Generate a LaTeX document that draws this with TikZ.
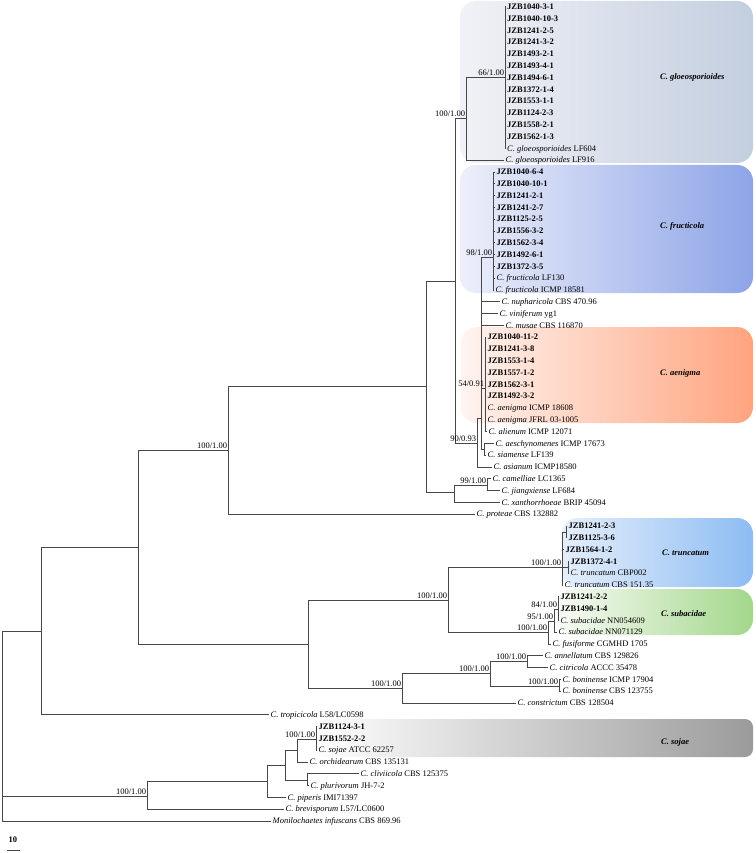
\documentclass[tikz,border=0pt]{standalone}
\usepackage{fontspec}
\setmainfont{Liberation Serif}
\definecolor{gloL}{HTML}{F1F2F7}
\definecolor{gloR}{HTML}{C3CEDF}
\definecolor{frL}{HTML}{EDEFFA}
\definecolor{frR}{HTML}{8DA4E7}
\definecolor{aeL}{HTML}{FFF4F0}
\definecolor{aeR}{HTML}{FFA47F}
\definecolor{trL}{HTML}{E5EFFB}
\definecolor{trR}{HTML}{8DBCF3}
\definecolor{suL}{HTML}{F8FBF6}
\definecolor{suR}{HTML}{A3D78B}
\definecolor{soL}{HTML}{FFFFFF}
\definecolor{soR}{HTML}{9B9B9B}
\newcommand{\rowy}[1]{6.8+11.8*(#1-1)}

\begin{document}
\begin{tikzpicture}[x=1pt, y=-1pt,
  br/.style={draw=black!72, line width=0.8pt, line cap=rect},
  leaf/.style={anchor=west, inner sep=1.5pt, text height=5.8pt, text depth=0.3pt,
    font=\fontsize{8.5}{10}\selectfont},
  jzb/.style={leaf, font=\fontsize{8.5}{10}\selectfont\bfseries},
  sup/.style={anchor=south east, inner sep=0.8pt, font=\fontsize{8.5}{10}\selectfont},
  clade/.style={anchor=west, inner sep=0pt, font=\fontsize{8.5}{10}\selectfont\bfseries\itshape},
  cladebox/.style={rounded corners=16pt}]
  \useasboundingbox (0,0) rectangle (755,853);

  % clade boxes
  \shade[cladebox, left color=gloL, right color=gloR] (460,1) rectangle (753,163);
  \shade[cladebox, left color=frL, right color=frR] (460,165) rectangle (753,293);
  \shade[cladebox, left color=aeL, right color=aeR] (461,327) rectangle (753,423);
  \shade[cladebox, left color=trL, right color=trR] (562,518) rectangle (753,587);
  \shade[cladebox, left color=suL, right color=suR] (557,589) rectangle (753,635);
  \shade[rounded corners=8pt, left color=soL, right color=soR] (314,719) rectangle (753,757);

  \node[clade] (cGlo) at (660,77)  {C. gloeosporioides};
  \node[clade] (cFru) at (660,226) {C. fructicola};
  \node[clade] (cAen) at (660,373) {C. aenigma};
  \node[clade] (cTru) at (662,553) {C. truncatum};
  \node[clade] (cSub) at (661,614) {C. subacidae};
  \node[clade] (cSoj) at (661,742) {C. sojae};

  % leaves
  \foreach \t [count=\i] in {JZB1040-3-1,JZB1040-10-3,JZB1241-2-5,JZB1241-3-2,JZB1493-2-1,JZB1493-4-1,
      JZB1494-6-1,JZB1372-1-4,JZB1553-1-1,JZB1124-2-3,JZB1558-2-1,JZB1562-1-3}
    \node[jzb] (l\i) at (505.5,{\rowy{\i}}) {\t};
  \node[leaf] (l13) at (505.5,{\rowy{13}}) {\textit{C. gloeosporioides} LF604};
  \node[leaf] (l14) at (504,{\rowy{14}})   {\textit{C. gloeosporioides} LF916};
  \foreach \t [count=\i from 15] in {JZB1040-6-4,JZB1040-10-1,JZB1241-2-1,JZB1241-2-7,JZB1125-2-5,
      JZB1556-3-2,JZB1562-3-4,JZB1492-6-1,JZB1372-3-5}
    \node[jzb] (l\i) at (495,{\rowy{\i}}) {\t};
  \node[leaf] (l24) at (495,{\rowy{24}}) {\textit{C. fructicola} LF130};
  \node[leaf] (l25) at (494,{\rowy{25}}) {\textit{C. fructicola} ICMP 18581};
  \node[leaf] (l26) at (500,{\rowy{26}}) {\textit{C. nupharicola} CBS 470.96};
  \node[leaf] (l27) at (498,{\rowy{27}}) {\textit{C. viniferum} yg1};
  \node[leaf] (l28) at (504,{\rowy{28}}) {\textit{C. musae} CBS 116870};
  \foreach \t [count=\i from 29] in {JZB1040-11-2,JZB1241-3-8,JZB1553-1-4,JZB1557-1-2,JZB1562-3-1,JZB1492-3-2}
    \node[jzb] (l\i) at (486,{\rowy{\i}}) {\t};
  \node[leaf] (l35) at (486,{\rowy{35}}) {\textit{C. aenigma} ICMP 18608};
  \node[leaf] (l36) at (486,{\rowy{36}}) {\textit{C. aenigma} JFRL 03-1005};
  \node[leaf] (l37) at (487,{\rowy{37}}) {\textit{C. alienum} ICMP 12071};
  \node[leaf] (l38) at (494,{\rowy{38}}) {\textit{C. aeschynomenes} ICMP 17673};
  \node[leaf] (l39) at (486,{\rowy{39}}) {\textit{C. siamense} LF139};
  \node[leaf] (l40) at (492,{\rowy{40}}) {\textit{C. asianum} ICMP18580};
  \node[leaf] (l41) at (491,{\rowy{41}}) {\textit{C. camelliae} LC1365};
  \node[leaf] (l42) at (500,{\rowy{42}}) {\textit{C. jiangxiense} LF684};
  \node[leaf] (l43) at (500,{\rowy{43}}) {\textit{C. xanthorrhoeae} BRIP 45094};
  \node[leaf] (l44) at (475,{\rowy{44}}) {\textit{C. proteae} CBS 132882};
  \node[jzb]  (l45) at (567,{\rowy{45}}) {JZB1241-2-3};
  \node[jzb]  (l46) at (567,{\rowy{46}}) {JZB1125-3-6};
  \node[jzb]  (l47) at (564,{\rowy{47}}) {JZB1564-1-2};
  \node[jzb]  (l48) at (569,{\rowy{48}}) {JZB1372-4-1};
  \node[leaf] (l49) at (569,{\rowy{49}}) {\textit{C. truncatum} CBP002};
  \node[leaf] (l50) at (563,{\rowy{50}}) {\textit{C. truncatum} CBS 151.35};
  \node[jzb]  (l51) at (559,{\rowy{51}}) {JZB1241-2-2};
  \node[jzb]  (l52) at (559,{\rowy{52}}) {JZB1490-1-4};
  \node[leaf] (l53) at (559,{\rowy{53}}) {\textit{C. subacidae} NN054609};
  \node[leaf] (l54) at (557,{\rowy{54}}) {\textit{C. subacidae} NN071129};
  \node[leaf] (l55) at (551,{\rowy{55}}) {\textit{C. fusiforme} CGMHD 1705};
  \node[leaf] (l56) at (543,{\rowy{56}}) {\textit{C. annellatum} CBS 129826};
  \node[leaf] (l57) at (548,{\rowy{57}}) {\textit{C. citricola} ACCC 35478};
  \node[leaf] (l58) at (561,{\rowy{58}}) {\textit{C. boninense} ICMP 17904};
  \node[leaf] (l59) at (561,{\rowy{59}}) {\textit{C. boninense} CBS 123755};
  \node[leaf] (l60) at (516,{\rowy{60}}) {\textit{C. constrictum} CBS 128504};
  \node[leaf] (l61) at (269,{\rowy{61}}) {\textit{C. tropicicola} L58/LC0598};
  \node[jzb]  (l62) at (317,{\rowy{62}}) {JZB1124-3-1};
  \node[jzb]  (l63) at (317,{\rowy{63}}) {JZB1552-2-2};
  \node[leaf] (l64) at (317,{\rowy{64}}) {\textit{C. sojae} ATCC 62257};
  \node[leaf] (l65) at (308,{\rowy{65}}) {\textit{C. orchidearum} CBS 135131};
  \node[leaf] (l66) at (359,{\rowy{66}}) {\textit{C. cliviicola} CBS 125375};
  \node[leaf] (l67) at (309,{\rowy{67}}) {\textit{C. plurivorum} JH-7-2};
  \node[leaf] (l68) at (286,{\rowy{68}}) {\textit{C. piperis} IMI71397};
  \node[leaf] (l69) at (284,{\rowy{69}}) {\textit{C. brevisporum} L57/LC0600};
  \node[leaf] (l70) at (271,{\rowy{70}}) {\textit{Monilochaetes infuscans} CBS 869.96};

  % inner nodes
  \coordinate (n66)   at (505,77);
  \coordinate (n100a) at (466,118);
  \coordinate (n98)   at (493,257);
  \coordinate (n54)   at (485,388);
  \coordinate (nAS)   at (484,449);
  \coordinate (nQ)    at (481,418);
  \coordinate (n90)   at (477,443);
  \coordinate (n455)  at (455,281);
  \coordinate (n99)   at (487,485);
  \coordinate (n454)  at (454,492);
  \coordinate (n426)  at (426,386);
  \coordinate (n228)  at (228,450);
  \coordinate (nT1)   at (566,532);
  \coordinate (nT2)   at (568,567);
  \coordinate (nT)    at (562,567);
  \coordinate (n84)   at (558,609);
  \coordinate (n95)   at (554,621);
  \coordinate (n548)  at (548,632);
  \coordinate (n448)  at (448,600);
  \coordinate (n527)  at (527,661);
  \coordinate (n559)  at (559,686);
  \coordinate (n490)  at (490,673);
  \coordinate (n402)  at (402,688);
  \coordinate (n308)  at (308,644);
  \coordinate (n138)  at (138,547);
  \coordinate (n41)   at (41,631);
  \coordinate (n316)  at (316,739);
  \coordinate (n297)  at (297,750);
  \coordinate (n307)  at (307,780);
  \coordinate (n285)  at (285,765);
  \coordinate (n267)  at (267,781);
  \coordinate (n147)  at (147,796);
  \coordinate (nRoot) at (2,726);

  % branches
  \foreach \c in {1,...,13} \draw[br] (n66) |- (l\c.west);
  \draw[br] (n100a) |- (n66) (n100a) |- (l14.west);
  \foreach \c in {15,...,25} \draw[br] (n98) |- (l\c.west);
  \foreach \c in {29,...,37} \draw[br] (n54) |- (l\c.west);
  \draw[br] (nAS) |- (l38.west) (nAS) |- (l39.west);
  \foreach \c in {26,27,28} \draw[br] (nQ) |- (l\c.west);
  \draw[br] (nQ) |- (n98) (nQ) |- (n54) (nQ) |- (nAS);
  \draw[br] (n90) |- (nQ) (n90) |- (l40.west);
  \draw[br] (n455) |- (n100a) (n455) |- (n90);
  \draw[br] (n99) |- (l41.west) (n99) |- (l42.west);
  \draw[br] (n454) |- (n99) (n454) |- (l43.west);
  \draw[br] (n426) |- (n455) (n426) |- (n454);
  \draw[br] (n228) |- (n426) (n228) |- (l44.west);
  \draw[br] (nT1) |- (l45.west) (nT1) |- (l46.west);
  \draw[br] (nT2) |- (l48.west) (nT2) |- (l49.west);
  \draw[br] (nT) |- (nT1) (nT) |- (l47.west) (nT) -- (nT2) (nT) |- (l50.west);
  \foreach \c in {51,52,53} \draw[br] (n84) |- (l\c.west);
  \draw[br] (n95) |- (n84) (n95) |- (l54.west);
  \draw[br] (n548) |- (n95) (n548) |- (l55.west);
  \draw[br] (n448) |- (nT) (n448) |- (n548);
  \draw[br] (n527) |- (l56.west) (n527) |- (l57.west);
  \draw[br] (n559) |- (l58.west) (n559) |- (l59.west);
  \draw[br] (n490) |- (n527) (n490) |- (n559);
  \draw[br] (n402) |- (n490) (n402) |- (l60.west);
  \draw[br] (n308) |- (n448) (n308) |- (n402);
  \draw[br] (n138) |- (n228) (n138) |- (n308);
  \draw[br] (n41) |- (n138) (n41) |- (l61.west);
  \foreach \c in {62,63,64} \draw[br] (n316) |- (l\c.west);
  \draw[br] (n297) |- (n316) (n297) |- (l65.west);
  \draw[br] (n307) |- (l66.west) (n307) |- (l67.west);
  \draw[br] (n285) |- (n297) (n285) |- (n307);
  \draw[br] (n267) |- (n285) (n267) |- (l68.west);
  \draw[br] (n147) |- (n267) (n147) |- (l69.west);
  \draw[br] (nRoot) |- (n41) (nRoot) |- (n147) (nRoot) |- (l70.west);

  % support values (ML/BI)
  \node[sup] (s66)   at (n66)   {66/1.00};
  \node[sup] (s100a) at (n100a) {100/1.00};
  \node[sup] (s98)   at (n98)   {98/1.00};
  \node[sup] (s54)   at (n54)   {54/0.91};
  \node[sup] (s90)   at (n90)   {90/0.93};
  \node[sup] (s99)   at (n99)   {99/1.00};
  \node[sup] (s228)  at (n228)  {100/1.00};
  \node[sup] (sT)    at (nT)    {100/1.00};
  \node[sup] (s448)  at (n448)  {100/1.00};
  \node[sup] (s84)   at (n84)   {84/1.00};
  \node[sup] (s95)   at (n95)   {95/1.00};
  \node[sup] (s548)  at (n548)  {100/1.00};
  \node[sup] (s527)  at (n527)  {100/1.00};
  \node[sup] (s490)  at (n490)  {100/1.00};
  \node[sup] (s559)  at (n559)  {100/1.00};
  \node[sup] (s402)  at (n402)  {100/1.00};
  \node[sup] (s316)  at (n316)  {100/1.00};
  \node[sup] (s147)  at (n147)  {100/1.00};

  % scale bar
  \node[font=\fontsize{8.5}{10}\selectfont\bfseries, inner sep=0pt] (scale) at (13,840) {10};
  \coordinate (sbL) at (7,850);
  \coordinate (sbR) at (20,850);
  \draw[br] (sbL) -- (sbR);
\end{tikzpicture}
\end{document}
